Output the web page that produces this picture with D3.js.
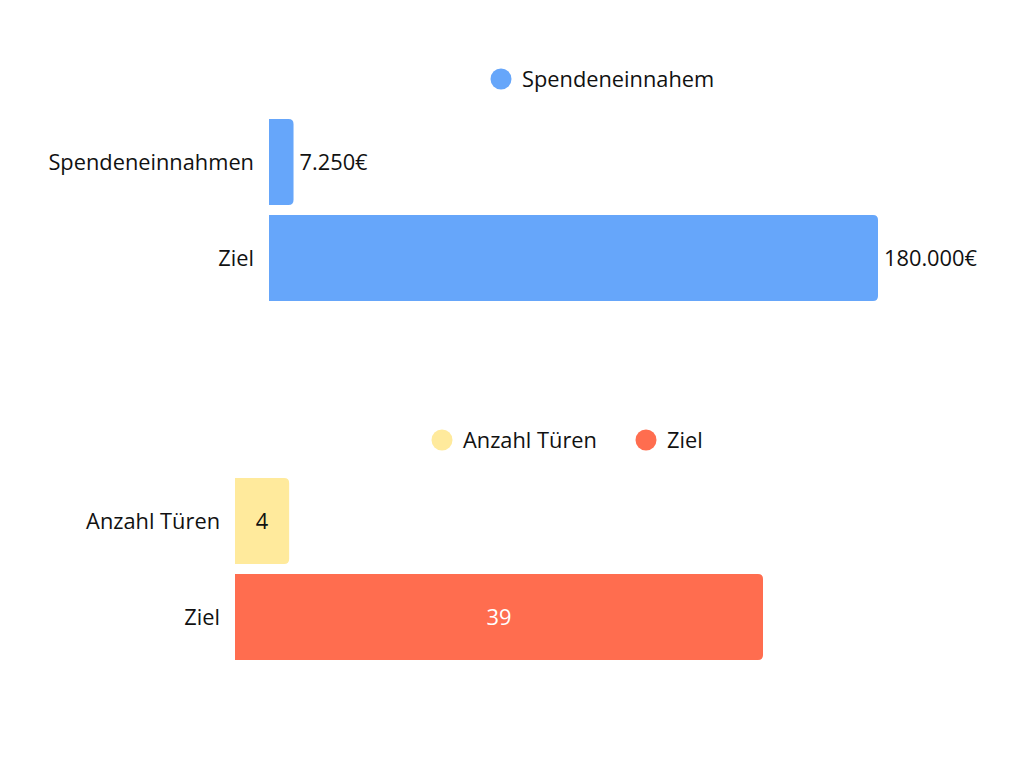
<!DOCTYPE html>
<html>
<head>
<meta charset="utf-8">
<script src="https://cdn.jsdelivr.net/npm/d3@7"></script>
<style>
  body { margin: 0; background: #fff; }
  text { font-family: "Open Sans", sans-serif; fill: #111; }
</style>
</head>
<body>
<svg id="chart" width="1024" height="768"></svg>
<script>
// top chart: donations
const donationCats = ["Spendeneinnahmen", "Ziel"];
const donationValues = [7250, 180000];
const donationLabels = ["7.250€", "180.000€"];
const donationLegend = ["Spendeneinnahem"];

// bottom chart: doors
const doorCats = ["Anzahl Türen", "Ziel"];
const doorValues = [4, 39];
const doorLegend = ["Anzahl Türen", "Ziel"];

const blue = "#66a6fa";
const yellow = "#ffea9c";
const coral = "#ff6d4f";

const svg = d3.select("#chart");
const fontSize = 21.8;

// bar with rounded right corners
function barPath(x0, x1, y0, h, r) {
  r = Math.min(r, (x1 - x0) / 2, h / 2);
  return `M${x0},${y0}H${x1 - r}Q${x1},${y0} ${x1},${y0 + r}` +
         `V${y0 + h - r}Q${x1},${y0 + h} ${x1 - r},${y0 + h}H${x0}Z`;
}

function drawChart(cfg) {
  const g = svg.append("g");
  const x = d3.scaleLinear().domain([0, cfg.max]).range([cfg.left, cfg.right]);
  const y = d3.scaleBand().domain(cfg.cats).range([cfg.top, cfg.bottom]).paddingInner(0.104);

  g.selectAll("path.bar")
    .data(cfg.values)
    .join("path")
    .attr("class", "bar")
    .attr("fill", (d, i) => cfg.colors[i])
    .attr("d", (d, i) => barPath(x(0), x(d), y(cfg.cats[i]), y.bandwidth(), 5));

  // category labels
  g.selectAll("text.cat")
    .data(cfg.cats)
    .join("text")
    .attr("class", "cat")
    .attr("x", x(0) - 15)
    .attr("y", d => y(d) + y.bandwidth() / 2)
    .attr("dy", "0.35em")
    .attr("text-anchor", "end")
    .style("font-size", fontSize + "px")
    .text(d => d);

  // value labels
  g.selectAll("text.val")
    .data(cfg.values)
    .join("text")
    .attr("class", "val")
    .attr("x", d => cfg.inside ? (x(0) + x(d)) / 2 : x(d) + 6)
    .attr("y", (d, i) => y(cfg.cats[i]) + y.bandwidth() / 2)
    .attr("dy", "0.35em")
    .attr("text-anchor", cfg.inside ? "middle" : "start")
    .style("font-size", fontSize + "px")
    .style("fill", (d, i) => cfg.labelColors[i])
    .text((d, i) => cfg.labels[i]);

  // legend
  const lg = g.append("g");
  cfg.legend.forEach((name, i) => {
    const lx = cfg.legendX[i];
    lg.append("circle")
      .attr("cx", lx).attr("cy", cfg.legendY).attr("r", 10.5)
      .attr("fill", cfg.legendColors[i]);
    lg.append("text")
      .attr("x", lx + 21).attr("y", cfg.legendY)
      .attr("dy", "0.35em")
      .style("font-size", fontSize + "px")
      .text(name);
  });
}

drawChart({
  cats: donationCats, values: donationValues, labels: donationLabels,
  max: 180000, left: 269, right: 878, top: 119, bottom: 301,
  colors: [blue, blue], labelColors: ["#111", "#111"], inside: false,
  legend: donationLegend, legendX: [501], legendY: 79, legendColors: [blue]
});

drawChart({
  cats: doorCats, values: doorValues, labels: doorValues.map(String),
  max: 39, left: 235, right: 763, top: 478, bottom: 660,
  colors: [yellow, coral], labelColors: ["#111", "#fff"], inside: true,
  legend: doorLegend, legendX: [442, 646], legendY: 440, legendColors: [yellow, coral]
});
</script>
</body>
</html>
